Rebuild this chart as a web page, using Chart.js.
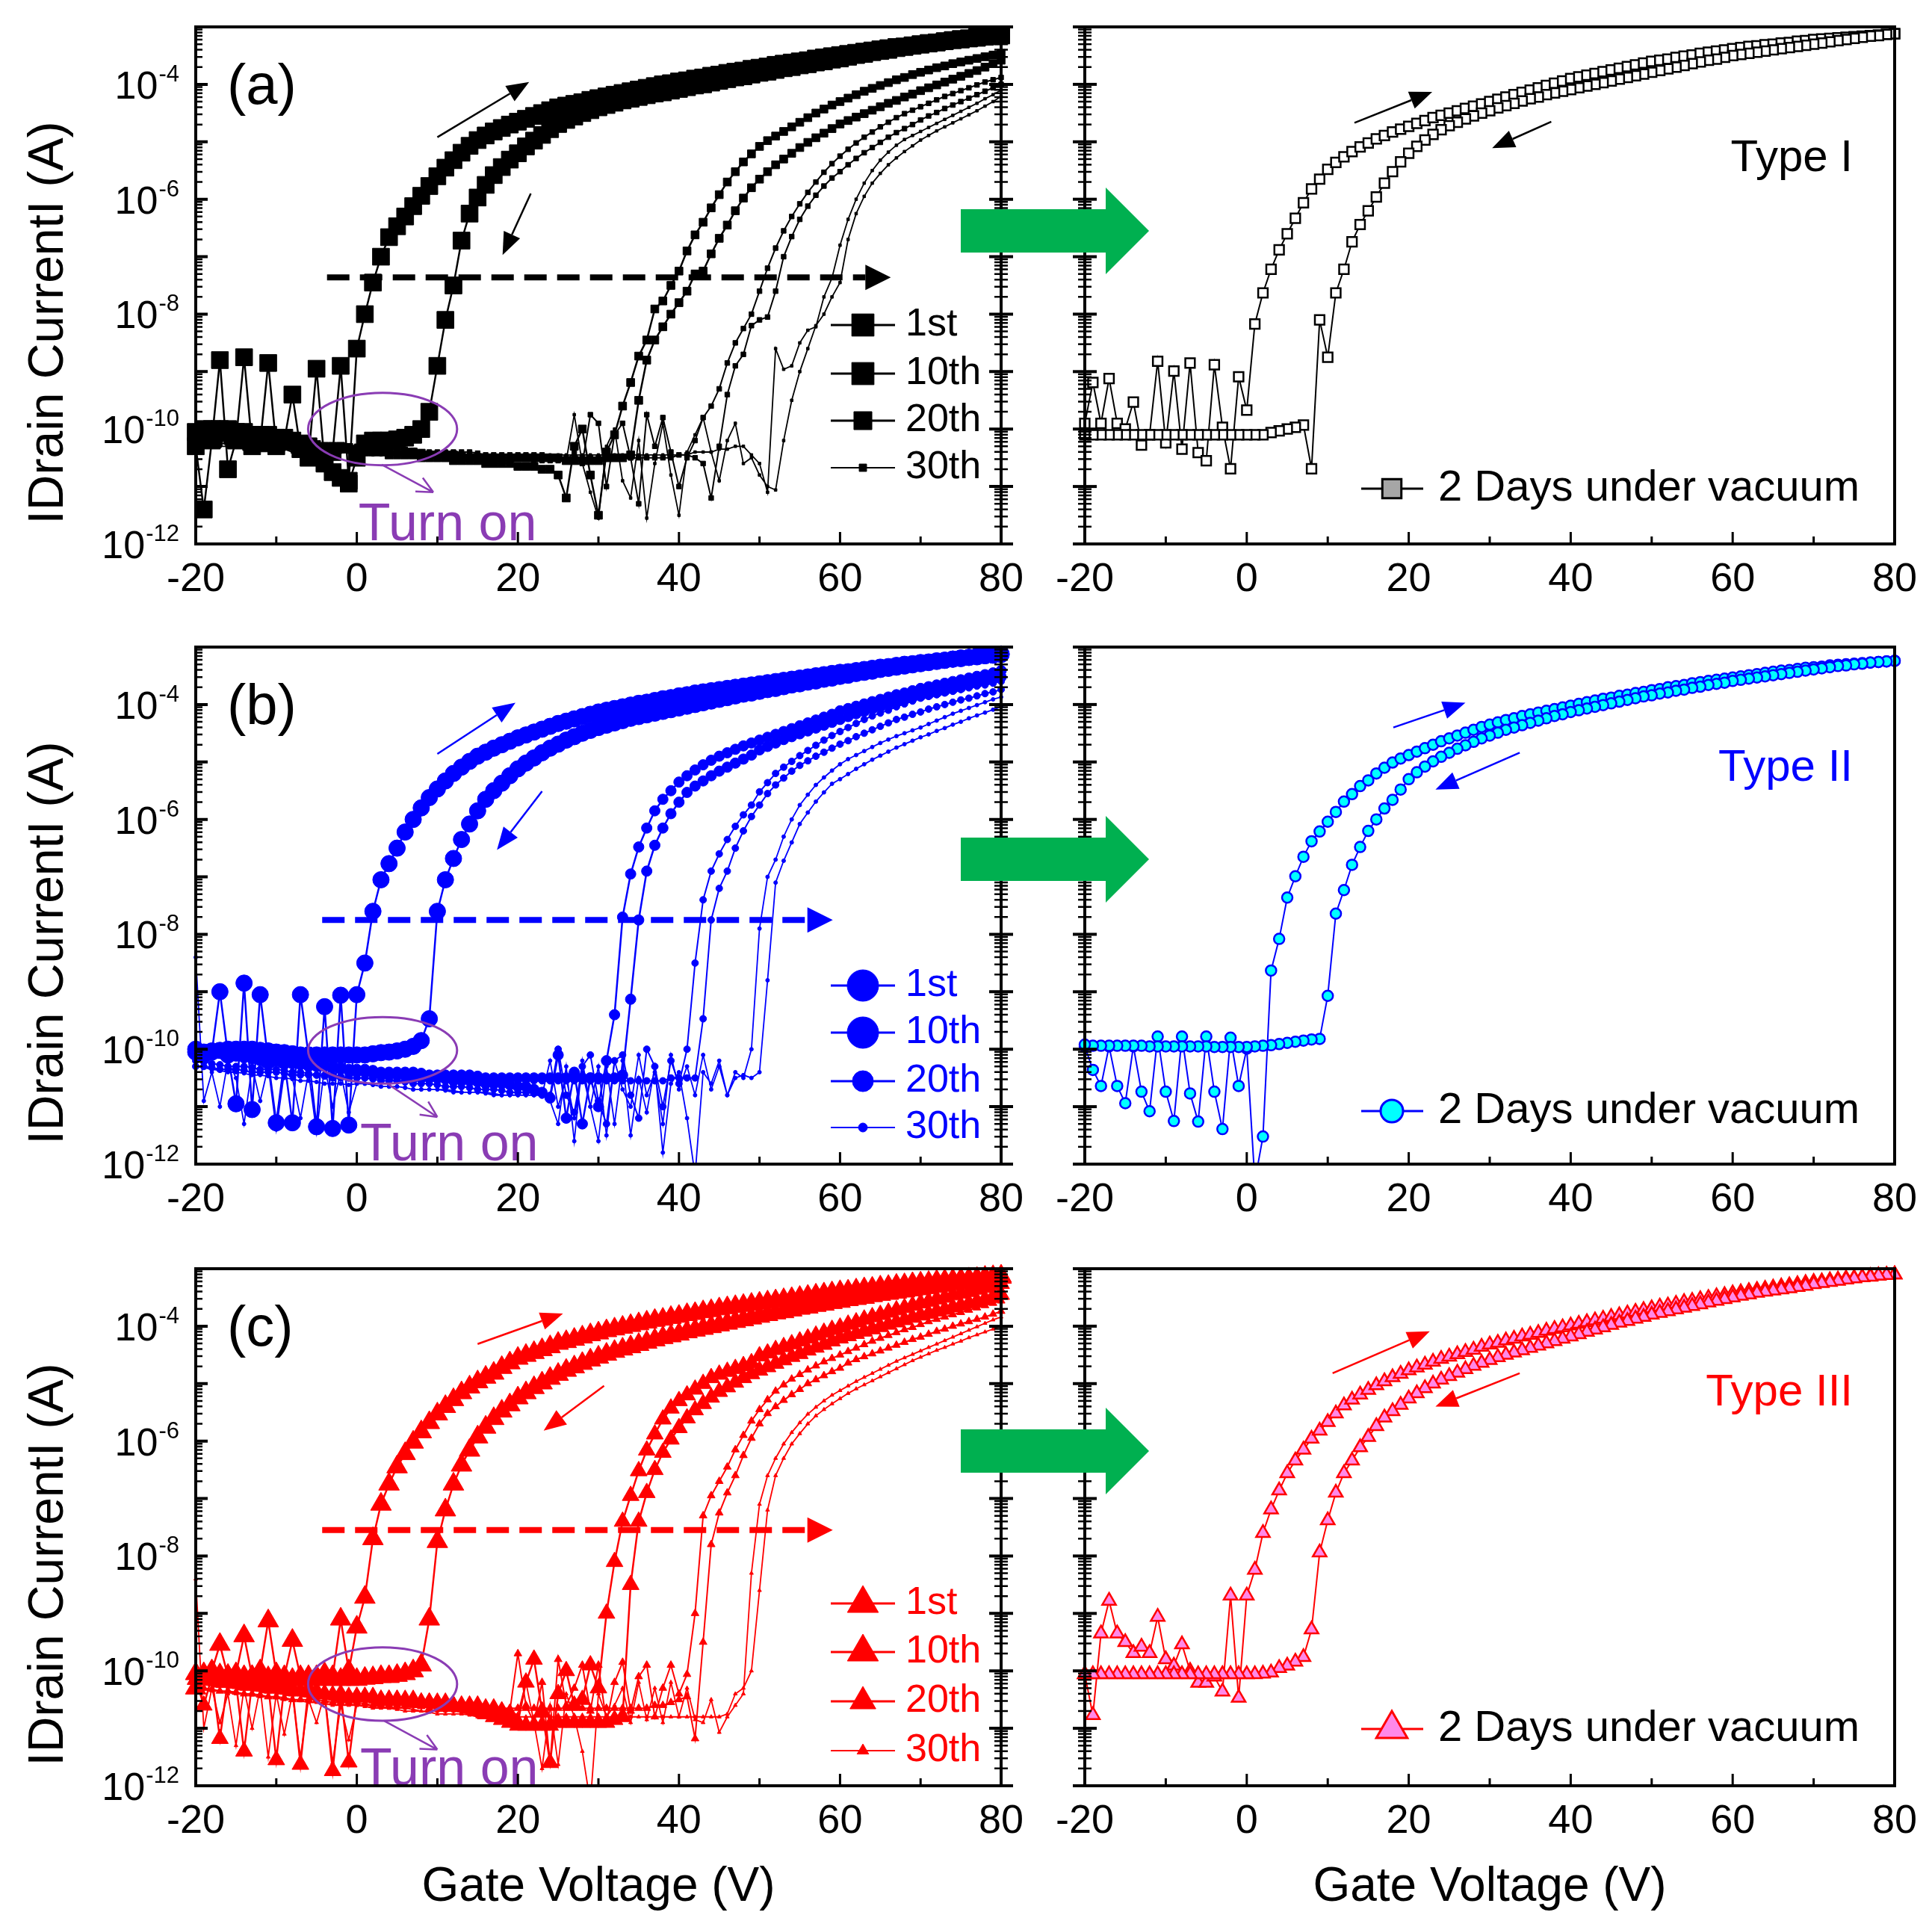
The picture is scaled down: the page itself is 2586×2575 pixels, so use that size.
<!DOCTYPE html>
<html>
<head>
<meta charset="utf-8">
<script src="https://cdn.jsdelivr.net/npm/chart.js"></script>
<style>
  html, body { margin: 0; padding: 0; background: #fff; }
  #page { position: relative; width: 2586px; height: 2575px; overflow: hidden; background: #fff; }
  #page canvas { position: absolute; }
</style>
</head>
<body>
<div id="page"></div>
<script>
// gate voltage grid (V), 1 V steps
const gateV = [-20,-19,-18,-17,-16,-15,-14,-13,-12,-11,
  -10,-9,-8,-7,-6,-5,-4,-3,-2,-1,
  0,1,2,3,4,5,6,7,8,9,
  10,11,12,13,14,15,16,17,18,19,
  20,21,22,23,24,25,26,27,28,29,
  30,31,32,33,34,35,36,37,38,39,
  40,41,42,43,44,45,46,47,48,49,
  50,51,52,53,54,55,56,57,58,59,
  60,61,62,63,64,65,66,67,68,69,
  70,71,72,73,74,75,76,77,78,79,80];

// drain current as log10(A); Fwd = sweep -20 -> 80, Rev = sweep 80 -> -20 (stored by ascending V)
// (a) cycles 1st / 10th / 20th / 30th
const a1Fwd = [-10.3,-11.4,-10.2,-8.8,-10.7,-10.2,-8.75,-10.3,-10.25,-8.85,
  -10.3,-10.2,-9.4,-10.35,-10.5,-8.95,-10.6,-10.4,-8.9,-10.9,
  -8.6,-8.0,-7.45,-7.0,-6.66,-6.47,-6.3,-6.12,-5.94,-5.77,
  -5.6,-5.45,-5.32,-5.19,-5.07,-4.97,-4.89,-4.82,-4.76,-4.7,
  -4.65,-4.6,-4.55,-4.5,-4.45,-4.4,-4.37,-4.34,-4.31,-4.27,
  -4.24,-4.21,-4.18,-4.15,-4.12,-4.09,-4.06,-4.03,-4.0,-3.98,
  -3.95,-3.93,-3.9,-3.88,-3.85,-3.83,-3.8,-3.78,-3.76,-3.73,
  -3.71,-3.69,-3.66,-3.64,-3.62,-3.6,-3.58,-3.55,-3.53,-3.51,
  -3.49,-3.47,-3.45,-3.43,-3.41,-3.39,-3.37,-3.35,-3.34,-3.32,
  -3.3,-3.28,-3.27,-3.25,-3.23,-3.22,-3.2,-3.19,-3.17,-3.16,-3.14];
const a1Rev = [-10.05,-10.0,-10.0,-10.0,-10.0,-10.05,-10.05,-10.1,-10.1,-10.1,
  -10.15,-10.15,-10.2,-10.25,-10.3,-10.45,-10.6,-10.75,-10.85,-10.95,
  -10.5,-10.25,-10.2,-10.2,-10.2,-10.18,-10.15,-10.1,-10.0,-9.7,
  -8.9,-8.1,-7.5,-6.72,-6.25,-5.97,-5.75,-5.58,-5.44,-5.31,
  -5.2,-5.08,-4.98,-4.88,-4.78,-4.69,-4.62,-4.56,-4.5,-4.45,
  -4.4,-4.36,-4.32,-4.28,-4.25,-4.22,-4.19,-4.16,-4.14,-4.11,
  -4.08,-4.05,-4.02,-4.0,-3.97,-3.94,-3.91,-3.88,-3.86,-3.83,
  -3.8,-3.78,-3.75,-3.72,-3.7,-3.67,-3.65,-3.62,-3.6,-3.57,
  -3.55,-3.52,-3.49,-3.47,-3.44,-3.42,-3.4,-3.37,-3.35,-3.33,
  -3.31,-3.29,-3.27,-3.25,-3.23,-3.21,-3.2,-3.18,-3.17,-3.16,-3.15];
const a2Fwd = [-10.15,-10.15,-10.15,-10.15,-10.2,-10.2,-10.2,-10.2,-10.25,-10.25,
  -10.25,-10.25,-10.3,-10.3,-10.3,-10.3,-10.35,-10.35,-10.35,-10.35,
  -10.4,-10.4,-10.4,-10.4,-10.45,-10.45,-10.45,-10.45,-10.5,-10.5,
  -10.5,-10.5,-10.55,-10.55,-10.55,-10.55,-10.6,-10.6,-10.6,-10.6,
  -10.65,-10.65,-10.65,-10.7,-10.7,-10.8,-11.2,-10.3,-10.0,-10.8,
  -11.5,-10.4,-10.1,-9.6,-9.19,-8.73,-8.45,-7.91,-7.77,-7.5,
  -7.25,-6.9,-6.62,-6.4,-6.15,-5.92,-5.7,-5.52,-5.35,-5.21,
  -5.08,-4.98,-4.9,-4.82,-4.74,-4.66,-4.58,-4.5,-4.43,-4.36,
  -4.3,-4.24,-4.18,-4.12,-4.07,-4.02,-3.97,-3.92,-3.88,-3.83,
  -3.79,-3.75,-3.71,-3.68,-3.64,-3.61,-3.58,-3.55,-3.52,-3.49,-3.46];
const a2Rev = [-10.0,-10.02,-10.05,-10.07,-10.1,-10.1,-10.12,-10.15,-10.15,-10.17,
  -10.2,-10.2,-10.22,-10.25,-10.25,-10.27,-10.3,-10.3,-10.3,-10.32,
  -10.35,-10.35,-10.35,-10.37,-10.4,-10.4,-10.4,-10.4,-10.42,-10.45,
  -10.45,-10.45,-10.45,-10.47,-10.5,-10.5,-10.5,-10.5,-10.5,-10.5,
  -10.5,-10.5,-10.5,-10.5,-10.5,-10.5,-10.55,-10.55,-10.55,-10.55,
  -10.55,-10.5,-10.5,-10.5,-10.45,-9.5,-8.8,-8.45,-8.22,-8.0,
  -7.8,-7.6,-7.3,-7.25,-6.95,-6.68,-6.45,-6.2,-5.98,-5.8,
  -5.65,-5.52,-5.4,-5.3,-5.2,-5.1,-5.01,-4.93,-4.85,-4.77,
  -4.69,-4.63,-4.57,-4.51,-4.45,-4.39,-4.33,-4.28,-4.22,-4.17,
  -4.11,-4.06,-4.01,-3.96,-3.91,-3.86,-3.81,-3.76,-3.7,-3.64,-3.58];
const a3Fwd = [-10.2,-10.2,-10.2,-10.25,-10.25,-10.25,-10.25,-10.3,-10.3,-10.3,
  -10.3,-10.3,-10.3,-10.35,-10.35,-10.35,-10.35,-10.35,-10.35,-10.35,
  -10.4,-10.4,-10.4,-10.4,-10.4,-10.4,-10.4,-10.4,-10.45,-10.45,
  -10.45,-10.45,-10.45,-10.45,-10.45,-10.5,-10.5,-10.5,-10.5,-10.5,
  -10.5,-10.5,-10.55,-10.55,-10.55,-10.55,-10.55,-10.4,-10.6,-9.75,
  -9.9,-11.0,-10.1,-9.9,-10.5,-11.3,-9.75,-10.3,-9.8,-10.4,
  -11.0,-10.5,-10.2,-9.8,-9.6,-9.3,-8.85,-8.5,-8.25,-8.0,
  -7.6,-7.2,-6.85,-6.55,-6.3,-6.08,-5.88,-5.7,-5.53,-5.38,
  -5.25,-5.13,-5.02,-4.92,-4.83,-4.74,-4.66,-4.58,-4.51,-4.45,
  -4.39,-4.33,-4.27,-4.21,-4.16,-4.11,-4.06,-4.01,-3.96,-3.92,-3.88];
const a3Rev = [-10.1,-10.1,-10.1,-10.12,-10.15,-10.15,-10.15,-10.17,-10.2,-10.2,
  -10.2,-10.22,-10.25,-10.25,-10.25,-10.27,-10.3,-10.3,-10.3,-10.3,
  -10.3,-10.32,-10.35,-10.35,-10.35,-10.35,-10.35,-10.37,-10.4,-10.4,
  -10.4,-10.4,-10.4,-10.4,-10.4,-10.42,-10.45,-10.45,-10.45,-10.45,
  -10.45,-10.45,-10.45,-10.45,-10.5,-10.5,-10.5,-10.5,-10.5,-10.5,
  -10.5,-10.5,-10.5,-10.5,-10.5,-10.5,-10.5,-10.5,-10.5,-10.5,
  -10.45,-10.45,-10.5,-10.6,-11.2,-10.3,-9.4,-8.9,-8.7,-8.2,
  -8.1,-8.05,-7.6,-7.0,-6.65,-6.35,-6.12,-5.93,-5.77,-5.63,
  -5.52,-5.4,-5.29,-5.19,-5.1,-5.01,-4.92,-4.84,-4.77,-4.7,
  -4.62,-4.55,-4.49,-4.42,-4.36,-4.3,-4.24,-4.18,-4.12,-4.06,-4.0];
const a4Fwd = [-10.25,-10.25,-10.25,-10.3,-10.3,-10.3,-10.3,-10.3,-10.3,-10.35,
  -10.35,-10.35,-10.35,-10.35,-10.35,-10.35,-10.35,-10.4,-10.4,-10.4,
  -10.4,-10.4,-10.4,-10.4,-10.4,-10.4,-10.4,-10.4,-10.4,-10.4,
  -10.4,-10.45,-10.45,-10.45,-10.45,-10.45,-10.45,-10.45,-10.45,-10.45,
  -10.45,-10.45,-10.45,-10.45,-10.45,-10.45,-10.45,-10.45,-10.45,-10.45,
  -10.45,-10.45,-10.45,-10.45,-10.45,-10.45,-10.45,-10.45,-10.45,-10.45,
  -10.45,-10.45,-10.4,-10.4,-10.4,-10.35,-10.35,-10.3,-10.3,-10.45,
  -10.6,-11.1,-8.6,-8.96,-8.9,-8.5,-8.28,-8.22,-7.7,-7.37,
  -6.8,-6.35,-6.0,-5.72,-5.5,-5.32,-5.18,-5.06,-4.96,-4.89,
  -4.82,-4.75,-4.68,-4.61,-4.54,-4.47,-4.4,-4.33,-4.25,-4.18,-4.1];
const a4Rev = [-10.3,-10.3,-10.3,-10.3,-10.3,-10.3,-10.35,-10.35,-10.35,-10.35,
  -10.35,-10.35,-10.4,-10.4,-10.4,-10.4,-10.4,-10.4,-10.4,-10.4,
  -10.4,-10.4,-10.45,-10.45,-10.45,-10.45,-10.45,-10.45,-10.45,-10.45,
  -10.5,-10.5,-10.5,-10.5,-10.5,-10.5,-10.5,-10.5,-10.5,-10.5,
  -10.5,-10.5,-10.5,-10.5,-10.55,-10.55,-10.55,-9.75,-10.6,-11.1,
  -11.55,-10.3,-10.0,-10.9,-11.2,-10.2,-11.55,-10.6,-9.9,-10.8,
  -11.5,-10.4,-10.1,-9.8,-10.4,-10.9,-10.2,-9.9,-10.6,-10.5,
  -10.8,-11.0,-11.06,-10.2,-9.5,-9.0,-8.6,-8.2,-8.0,-7.7,
  -7.45,-6.7,-6.25,-5.95,-5.72,-5.55,-5.4,-5.28,-5.17,-5.07,
  -4.97,-4.89,-4.81,-4.74,-4.67,-4.6,-4.53,-4.46,-4.38,-4.3,-4.21];

// (b)
const b1Fwd = [-10.0,-10.1,-10.05,-9.0,-10.1,-10.95,-8.85,-11.05,-9.05,-10.2,
  -11.28,-10.2,-11.28,-9.05,-10.1,-11.35,-9.26,-11.38,-9.06,-11.32,
  -9.05,-8.5,-7.6,-7.05,-6.77,-6.5,-6.22,-6.0,-5.8,-5.62,
  -5.47,-5.33,-5.2,-5.09,-4.99,-4.9,-4.83,-4.76,-4.7,-4.64,
  -4.58,-4.53,-4.48,-4.43,-4.38,-4.33,-4.29,-4.25,-4.21,-4.17,
  -4.13,-4.1,-4.07,-4.04,-4.01,-3.98,-3.96,-3.93,-3.9,-3.88,
  -3.85,-3.83,-3.8,-3.78,-3.76,-3.74,-3.72,-3.7,-3.68,-3.66,
  -3.64,-3.62,-3.6,-3.58,-3.56,-3.54,-3.52,-3.5,-3.48,-3.46,
  -3.44,-3.43,-3.41,-3.39,-3.37,-3.35,-3.34,-3.32,-3.3,-3.29,
  -3.27,-3.26,-3.24,-3.23,-3.21,-3.2,-3.18,-3.17,-3.15,-3.14,-3.12];
const b1Rev = [-10.05,-10.05,-10.03,-10.02,-10.0,-10.0,-10.0,-10.0,-10.02,-10.03,
  -10.05,-10.06,-10.08,-10.1,-10.1,-10.1,-10.1,-10.1,-10.1,-10.1,
  -10.1,-10.1,-10.08,-10.06,-10.05,-10.03,-10.0,-9.95,-9.85,-9.47,
  -7.6,-7.05,-6.68,-6.35,-6.08,-5.85,-5.65,-5.5,-5.37,-5.24,
  -5.12,-5.02,-4.93,-4.84,-4.76,-4.69,-4.62,-4.56,-4.5,-4.45,
  -4.4,-4.36,-4.32,-4.28,-4.24,-4.21,-4.18,-4.15,-4.12,-4.09,
  -4.06,-4.03,-4.0,-3.97,-3.94,-3.91,-3.88,-3.85,-3.82,-3.8,
  -3.77,-3.74,-3.72,-3.69,-3.66,-3.64,-3.61,-3.59,-3.56,-3.54,
  -3.51,-3.49,-3.46,-3.44,-3.42,-3.39,-3.37,-3.35,-3.33,-3.31,
  -3.29,-3.27,-3.25,-3.23,-3.21,-3.19,-3.18,-3.16,-3.15,-3.14,-3.13];
const b2Fwd = [-10.0,-10.02,-10.05,-10.07,-10.1,-10.12,-10.15,-10.17,-10.2,-10.2,
  -10.2,-10.22,-10.25,-10.27,-10.3,-10.3,-10.3,-10.32,-10.35,-10.37,
  -10.4,-10.4,-10.42,-10.45,-10.45,-10.45,-10.47,-10.5,-10.5,-10.5,
  -10.5,-10.52,-10.55,-10.55,-10.55,-10.57,-10.6,-10.6,-10.6,-10.62,
  -10.65,-10.65,-10.7,-10.75,-10.85,-10.1,-11.2,-10.4,-11.3,-10.5,
  -11.0,-10.2,-9.4,-7.7,-6.95,-6.48,-6.15,-5.85,-5.65,-5.5,
  -5.35,-5.24,-5.14,-5.05,-4.97,-4.9,-4.84,-4.78,-4.72,-4.67,
  -4.62,-4.57,-4.52,-4.47,-4.42,-4.37,-4.32,-4.27,-4.22,-4.17,
  -4.11,-4.07,-4.03,-3.99,-3.95,-3.91,-3.87,-3.83,-3.8,-3.76,
  -3.72,-3.69,-3.66,-3.63,-3.6,-3.57,-3.54,-3.51,-3.48,-3.45,-3.41];
const b2Rev = [-10.0,-10.02,-10.05,-10.07,-10.1,-10.1,-10.12,-10.15,-10.17,-10.2,
  -10.2,-10.22,-10.25,-10.25,-10.27,-10.3,-10.3,-10.3,-10.32,-10.35,
  -10.35,-10.35,-10.37,-10.4,-10.4,-10.4,-10.4,-10.4,-10.42,-10.45,
  -10.45,-10.45,-10.45,-10.45,-10.45,-10.47,-10.5,-10.5,-10.5,-10.5,
  -10.5,-10.5,-10.5,-10.5,-10.5,-10.5,-10.5,-10.5,-10.5,-10.5,
  -10.5,-10.5,-10.5,-10.45,-9.13,-7.75,-6.9,-6.45,-6.15,-5.9,
  -5.7,-5.53,-5.42,-5.33,-5.24,-5.16,-5.09,-5.02,-4.95,-4.88,
  -4.79,-4.73,-4.67,-4.61,-4.56,-4.51,-4.46,-4.41,-4.36,-4.31,
  -4.26,-4.21,-4.16,-4.12,-4.08,-4.04,-4.0,-3.96,-3.92,-3.88,
  -3.85,-3.82,-3.79,-3.76,-3.73,-3.7,-3.66,-3.63,-3.59,-3.55,-3.52];
const b3Fwd = [-10.2,-10.22,-10.25,-10.27,-10.3,-10.3,-10.3,-10.32,-10.35,-10.35,
  -10.35,-10.37,-10.4,-10.4,-10.42,-10.45,-10.45,-10.45,-10.47,-10.5,
  -10.5,-10.5,-10.52,-10.55,-10.55,-10.55,-10.57,-10.6,-10.6,-10.6,
  -10.62,-10.65,-10.65,-10.65,-10.67,-10.7,-10.7,-10.7,-10.72,-10.75,
  -10.75,-10.75,-10.77,-10.8,-10.8,-10.0,-10.8,-11.1,-10.3,-10.1,
  -10.9,-11.3,-10.2,-10.1,-10.8,-11.2,-10.0,-10.3,-11.0,-10.2,
  -10.6,-10.0,-8.5,-7.4,-6.9,-6.6,-6.35,-6.12,-5.92,-5.75,
  -5.52,-5.36,-5.2,-5.09,-4.99,-4.89,-4.8,-4.71,-4.62,-4.54,
  -4.47,-4.4,-4.33,-4.26,-4.2,-4.15,-4.1,-4.04,-3.99,-3.94,
  -3.89,-3.86,-3.83,-3.8,-3.77,-3.74,-3.71,-3.68,-3.66,-3.63,-3.6];
const b3Rev = [-10.3,-10.3,-10.32,-10.35,-10.35,-10.35,-10.37,-10.4,-10.4,-10.4,
  -10.4,-10.42,-10.45,-10.45,-10.45,-10.45,-10.47,-10.5,-10.5,-10.5,
  -10.5,-10.5,-10.5,-10.5,-10.52,-10.55,-10.55,-10.55,-10.55,-10.55,
  -10.55,-10.55,-10.55,-10.55,-10.55,-10.55,-10.55,-10.55,-10.55,-10.55,
  -10.55,-10.55,-10.55,-10.55,-10.55,-10.55,-10.55,-10.55,-10.55,-10.55,
  -10.55,-10.55,-10.55,-10.55,-10.55,-10.55,-10.55,-10.55,-10.55,-10.5,
  -10.5,-10.5,-10.5,-9.47,-7.75,-7.2,-6.9,-6.5,-6.2,-5.95,
  -5.75,-5.55,-5.4,-5.28,-5.16,-5.06,-4.98,-4.9,-4.83,-4.76,
  -4.69,-4.63,-4.56,-4.5,-4.44,-4.38,-4.32,-4.26,-4.22,-4.17,
  -4.13,-4.08,-4.04,-4.0,-3.96,-3.92,-3.89,-3.85,-3.81,-3.78,-3.74];
const b4Fwd = [-8.4,-10.9,-10.4,-11.0,-10.2,-10.5,-11.3,-10.3,-10.9,-10.3,
  -11.4,-10.4,-10.5,-11.2,-10.4,-11.45,-10.3,-11.0,-10.4,-11.1,
  -10.6,-10.6,-10.62,-10.65,-10.65,-10.65,-10.67,-10.7,-10.7,-10.7,
  -10.7,-10.72,-10.75,-10.75,-10.75,-10.75,-10.77,-10.8,-10.8,-10.8,
  -10.8,-10.8,-10.8,-10.8,-10.2,-11.0,-10.5,-11.2,-10.4,-11.0,
  -10.3,-11.5,-10.2,-10.7,-11.0,-10.1,-10.8,-10.4,-11.3,-10.1,
  -10.7,-10.3,-10.8,-10.1,-10.7,-10.3,-10.8,-10.4,-10.5,-10.0,
  -7.9,-7.0,-6.7,-6.3,-6.0,-5.75,-5.57,-5.4,-5.27,-5.15,
  -5.04,-4.95,-4.88,-4.81,-4.74,-4.67,-4.61,-4.55,-4.5,-4.45,
  -4.4,-4.34,-4.28,-4.22,-4.16,-4.11,-4.06,-4.01,-3.96,-3.91,-3.87];
const b4Rev = [-10.3,-10.32,-10.35,-10.37,-10.4,-10.4,-10.42,-10.45,-10.45,-10.47,
  -10.5,-10.5,-10.52,-10.55,-10.55,-10.57,-10.6,-10.6,-10.6,-10.62,
  -10.6,-10.6,-10.62,-10.65,-10.65,-10.65,-10.67,-10.7,-10.7,-10.7,
  -10.7,-10.7,-10.72,-10.75,-10.75,-10.75,-10.75,-10.77,-10.8,-10.8,
  -10.8,-10.8,-10.8,-10.8,-10.9,-11.3,-10.3,-11.6,-10.2,-11.0,
  -11.6,-10.3,-11.3,-10.2,-11.5,-10.5,-11.1,-10.3,-11.8,-10.6,
  -10.4,-11.2,-12.2,-10.4,-10.6,-10.2,-10.8,-10.5,-10.45,-10.5,
  -10.4,-8.8,-7.1,-6.72,-6.4,-6.08,-5.88,-5.69,-5.53,-5.38,
  -5.3,-5.21,-5.12,-5.04,-4.96,-4.89,-4.82,-4.75,-4.69,-4.63,
  -4.57,-4.52,-4.46,-4.41,-4.35,-4.3,-4.24,-4.19,-4.14,-4.09,-4.04];

// (c)
const c1Fwd = [-10.3,-10.1,-10.0,-9.54,-10.1,-10.05,-9.39,-10.1,-10.0,-9.13,
  -10.05,-10.1,-9.47,-10.1,-10.1,-10.1,-10.05,-10.1,-9.1,-10.0,
  -9.24,-8.72,-7.7,-7.1,-6.75,-6.45,-6.22,-6.02,-5.84,-5.68,
  -5.53,-5.4,-5.28,-5.16,-5.06,-4.97,-4.89,-4.82,-4.72,-4.64,
  -4.56,-4.51,-4.46,-4.41,-4.36,-4.3,-4.27,-4.23,-4.19,-4.15,
  -4.12,-4.08,-4.05,-4.02,-3.99,-3.96,-3.93,-3.9,-3.88,-3.85,
  -3.83,-3.8,-3.78,-3.75,-3.73,-3.7,-3.68,-3.66,-3.64,-3.62,
  -3.6,-3.58,-3.56,-3.54,-3.52,-3.5,-3.48,-3.46,-3.44,-3.42,
  -3.4,-3.39,-3.37,-3.35,-3.34,-3.32,-3.31,-3.29,-3.28,-3.26,
  -3.25,-3.24,-3.22,-3.21,-3.2,-3.19,-3.18,-3.17,-3.15,-3.14,-3.13];
const c1Rev = [-10.05,-10.05,-10.05,-10.07,-10.08,-10.1,-10.1,-10.1,-10.1,-10.12,
  -10.12,-10.13,-10.15,-10.15,-10.15,-10.15,-10.15,-10.15,-10.15,-10.15,
  -10.15,-10.13,-10.12,-10.1,-10.1,-10.08,-10.05,-10.0,-9.9,-9.1,
  -7.75,-7.2,-6.75,-6.42,-6.16,-5.93,-5.76,-5.61,-5.48,-5.37,
  -5.25,-5.16,-5.07,-4.99,-4.91,-4.84,-4.77,-4.71,-4.65,-4.59,
  -4.54,-4.49,-4.44,-4.4,-4.36,-4.32,-4.28,-4.24,-4.2,-4.17,
  -4.14,-4.1,-4.07,-4.04,-4.01,-3.98,-3.95,-3.92,-3.89,-3.86,
  -3.83,-3.8,-3.77,-3.75,-3.72,-3.69,-3.67,-3.64,-3.62,-3.59,
  -3.57,-3.54,-3.52,-3.5,-3.47,-3.45,-3.43,-3.41,-3.39,-3.37,
  -3.35,-3.33,-3.31,-3.29,-3.27,-3.25,-3.23,-3.21,-3.19,-3.17,-3.15];
const c2Fwd = [-10.15,-10.6,-10.1,-11.18,-10.15,-10.2,-11.4,-10.2,-10.2,-10.25,
  -11.55,-10.25,-10.3,-11.63,-10.3,-10.35,-10.4,-11.74,-10.4,-11.59,
  -10.45,-10.45,-10.45,-10.5,-10.5,-10.5,-10.5,-10.5,-10.55,-10.55,
  -10.55,-10.55,-10.6,-10.6,-10.6,-10.6,-10.65,-10.65,-10.7,-10.75,
  -10.9,-10.2,-9.8,-10.7,-11.6,-10.4,-10.0,-10.6,-10.5,-9.9,
  -10.3,-9.0,-8.1,-7.4,-6.95,-6.52,-6.16,-5.88,-5.62,-5.43,
  -5.3,-5.2,-5.1,-5.0,-4.9,-4.84,-4.79,-4.74,-4.69,-4.64,
  -4.52,-4.47,-4.41,-4.36,-4.31,-4.26,-4.21,-4.16,-4.11,-4.06,
  -4.02,-3.97,-3.93,-3.88,-3.84,-3.8,-3.76,-3.72,-3.68,-3.64,
  -3.6,-3.57,-3.53,-3.5,-3.46,-3.43,-3.4,-3.36,-3.33,-3.29,-3.26];
const c2Rev = [-10.15,-10.15,-10.17,-10.2,-10.2,-10.22,-10.25,-10.25,-10.27,-10.3,
  -10.3,-10.32,-10.35,-10.35,-10.37,-10.4,-10.4,-10.42,-10.45,-10.45,
  -10.45,-10.45,-10.47,-10.5,-10.5,-10.5,-10.52,-10.55,-10.55,-10.55,
  -10.57,-10.6,-10.6,-10.62,-10.65,-10.7,-10.75,-10.8,-10.85,-10.9,
  -10.95,-10.95,-10.95,-10.95,-10.95,-10.9,-10.9,-10.9,-10.9,-10.9,
  -10.9,-10.9,-10.85,-10.8,-8.5,-7.4,-6.9,-6.5,-6.2,-5.97,
  -5.77,-5.6,-5.46,-5.35,-5.24,-5.14,-5.06,-4.98,-4.9,-4.83,
  -4.77,-4.71,-4.65,-4.59,-4.53,-4.48,-4.42,-4.37,-4.32,-4.26,
  -4.21,-4.17,-4.13,-4.09,-4.05,-4.01,-3.97,-3.93,-3.89,-3.85,
  -3.81,-3.78,-3.74,-3.71,-3.67,-3.64,-3.6,-3.57,-3.53,-3.49,-3.45];
const c3Fwd = [-10.2,-10.2,-10.22,-10.25,-10.25,-10.27,-10.3,-10.3,-10.32,-10.35,
  -10.35,-10.37,-10.4,-10.4,-10.42,-10.45,-10.45,-10.47,-10.5,-10.5,
  -10.5,-10.5,-10.52,-10.55,-10.55,-10.55,-10.55,-10.57,-10.6,-10.6,
  -10.6,-10.6,-10.6,-10.62,-10.65,-10.65,-10.65,-10.65,-10.67,-10.7,
  -9.7,-10.6,-10.9,-10.2,-11.6,-9.8,-10.6,-10.3,-9.9,-10.7,
  -9.9,-10.9,-10.2,-9.85,-10.7,-10.1,-9.9,-10.8,-10.3,-9.9,
  -10.4,-10.06,-9.0,-7.3,-6.95,-6.7,-6.45,-6.15,-5.9,-5.65,
  -5.45,-5.28,-5.13,-5.02,-4.92,-4.84,-4.76,-4.69,-4.62,-4.56,
  -4.5,-4.44,-4.38,-4.32,-4.26,-4.21,-4.16,-4.11,-4.06,-4.02,
  -3.97,-3.92,-3.88,-3.84,-3.8,-3.76,-3.72,-3.68,-3.64,-3.6,-3.56];
const c3Rev = [-10.3,-10.3,-10.32,-10.35,-10.35,-10.37,-10.4,-10.4,-10.42,-10.45,
  -10.45,-10.47,-10.5,-10.5,-10.5,-10.5,-10.52,-10.55,-10.55,-10.55,
  -10.55,-10.57,-10.6,-10.6,-10.6,-10.6,-10.6,-10.6,-10.62,-10.65,
  -10.65,-10.65,-10.65,-10.65,-10.65,-10.65,-10.65,-10.65,-10.65,-10.65,
  -10.65,-10.65,-10.65,-10.65,-10.65,-10.65,-10.65,-10.65,-10.65,-10.65,
  -10.65,-10.65,-10.65,-10.65,-10.65,-10.65,-10.65,-10.6,-10.6,-10.55,
  -10.5,-10.45,-11.18,-9.5,-7.8,-7.25,-6.9,-6.6,-6.25,-5.95,
  -5.7,-5.52,-5.4,-5.29,-5.19,-5.1,-5.0,-4.93,-4.86,-4.79,
  -4.73,-4.64,-4.58,-4.53,-4.48,-4.43,-4.38,-4.33,-4.28,-4.23,
  -4.19,-4.14,-4.09,-4.05,-4.0,-3.96,-3.92,-3.88,-3.84,-3.79,-3.74];
const c4Fwd = [-8.4,-11.0,-10.3,-10.9,-10.4,-11.3,-10.3,-11.0,-10.3,-11.5,
  -10.4,-11.1,-10.4,-11.5,-10.5,-10.9,-10.4,-11.6,-10.6,-11.2,
  -10.6,-10.6,-10.6,-10.62,-10.65,-10.65,-10.65,-10.67,-10.7,-10.7,
  -10.7,-10.7,-10.7,-10.72,-10.75,-10.75,-10.75,-10.75,-10.75,-10.75,
  -10.75,-10.2,-10.9,-11.7,-10.6,-11.63,-10.4,-10.8,-11.4,-12.3,
  -10.4,-10.8,-10.6,-10.3,-10.9,-10.2,-10.85,-10.3,-10.9,-10.2,
  -10.8,-10.3,-10.85,-10.9,-10.5,-11.07,-10.8,-10.6,-10.4,-8.3,
  -7.1,-6.6,-6.3,-6.05,-5.85,-5.68,-5.53,-5.41,-5.3,-5.2,
  -5.12,-5.04,-4.96,-4.89,-4.82,-4.75,-4.68,-4.61,-4.55,-4.49,
  -4.43,-4.37,-4.31,-4.25,-4.19,-4.13,-4.07,-4.01,-3.95,-3.89,-3.84];
const c4Rev = [-10.3,-10.32,-10.35,-10.35,-10.37,-10.4,-10.4,-10.42,-10.45,-10.45,
  -10.47,-10.5,-10.5,-10.52,-10.55,-10.55,-10.57,-10.6,-10.6,-10.6,
  -10.6,-10.62,-10.65,-10.65,-10.65,-10.67,-10.7,-10.7,-10.7,-10.72,
  -10.75,-10.75,-10.75,-10.75,-10.77,-10.8,-10.8,-10.8,-10.8,-10.8,
  -10.8,-10.8,-10.8,-10.8,-10.8,-10.8,-10.8,-10.8,-10.8,-10.8,
  -10.8,-10.8,-10.8,-10.8,-10.8,-10.8,-10.8,-10.8,-10.8,-10.8,
  -10.8,-10.8,-10.8,-10.8,-10.8,-10.8,-10.75,-10.4,-10.3,-10.0,
  -8.6,-7.2,-6.6,-6.3,-6.05,-5.87,-5.7,-5.56,-5.45,-5.35,
  -5.26,-5.17,-5.09,-5.02,-4.95,-4.88,-4.81,-4.74,-4.67,-4.6,
  -4.54,-4.48,-4.42,-4.37,-4.31,-4.26,-4.2,-4.15,-4.1,-4.05,-4.0];

// 2 days under vacuum (right panels)
const aVacFwd = [-9.9,-9.19,-9.9,-9.12,-9.9,-10.0,-9.53,-10.28,-10.1,-8.82,
  -10.24,-8.99,-10.35,-8.85,-10.41,-10.55,-8.88,-9.97,-10.69,-9.09,
  -9.67,-8.17,-7.63,-7.22,-6.88,-6.6,-6.33,-6.06,-5.82,-5.65,
  -5.48,-5.36,-5.26,-5.17,-5.09,-5.02,-4.95,-4.89,-4.83,-4.78,
  -4.73,-4.68,-4.63,-4.58,-4.54,-4.5,-4.46,-4.42,-4.38,-4.34,
  -4.3,-4.26,-4.22,-4.18,-4.14,-4.1,-4.06,-4.02,-3.98,-3.94,
  -3.9,-3.87,-3.84,-3.81,-3.78,-3.75,-3.72,-3.69,-3.66,-3.63,
  -3.6,-3.58,-3.56,-3.53,-3.51,-3.49,-3.46,-3.44,-3.42,-3.4,
  -3.38,-3.36,-3.34,-3.33,-3.31,-3.3,-3.28,-3.27,-3.25,-3.24,
  -3.22,-3.21,-3.2,-3.19,-3.18,-3.17,-3.16,-3.15,-3.14,-3.13,-3.12];
const aVacRev = [-10.1,-10.1,-10.1,-10.1,-10.1,-10.1,-10.1,-10.1,-10.1,-10.1,
  -10.1,-10.1,-10.1,-10.1,-10.1,-10.1,-10.1,-10.1,-10.1,-10.1,
  -10.1,-10.1,-10.1,-10.06,-10.03,-10.0,-9.97,-9.93,-10.69,-8.1,
  -8.75,-7.63,-7.22,-6.74,-6.44,-6.2,-5.96,-5.72,-5.52,-5.35,
  -5.2,-5.08,-4.97,-4.87,-4.79,-4.72,-4.66,-4.6,-4.55,-4.5,
  -4.46,-4.41,-4.37,-4.33,-4.29,-4.25,-4.22,-4.18,-4.15,-4.12,
  -4.09,-4.06,-4.03,-4.0,-3.97,-3.94,-3.91,-3.88,-3.85,-3.82,
  -3.79,-3.76,-3.73,-3.7,-3.67,-3.64,-3.61,-3.58,-3.56,-3.53,
  -3.5,-3.48,-3.46,-3.44,-3.42,-3.4,-3.38,-3.36,-3.34,-3.32,
  -3.3,-3.28,-3.26,-3.24,-3.22,-3.2,-3.18,-3.16,-3.15,-3.13,-3.12];
const bVacFwd = [-9.95,-10.36,-10.64,-9.95,-10.64,-10.94,-9.95,-10.74,-11.08,-9.78,
  -10.74,-11.25,-9.78,-10.77,-11.26,-9.78,-10.74,-11.39,-9.8,-10.64,
  -9.99,-12.3,-11.52,-8.63,-8.08,-7.36,-6.99,-6.65,-6.38,-6.21,
  -6.04,-5.87,-5.69,-5.56,-5.42,-5.32,-5.2,-5.1,-5.01,-4.94,
  -4.88,-4.82,-4.76,-4.7,-4.64,-4.59,-4.54,-4.49,-4.44,-4.39,
  -4.35,-4.31,-4.27,-4.24,-4.2,-4.17,-4.14,-4.11,-4.08,-4.05,
  -4.02,-3.99,-3.96,-3.93,-3.9,-3.88,-3.85,-3.83,-3.8,-3.78,
  -3.75,-3.73,-3.7,-3.68,-3.66,-3.63,-3.61,-3.59,-3.57,-3.55,
  -3.53,-3.51,-3.49,-3.47,-3.45,-3.43,-3.41,-3.4,-3.38,-3.36,
  -3.35,-3.34,-3.32,-3.31,-3.3,-3.29,-3.28,-3.27,-3.26,-3.25,-3.24];
const bVacRev = [-9.92,-9.94,-9.94,-9.94,-9.94,-9.94,-9.94,-9.94,-9.95,-9.95,
  -9.95,-9.95,-9.95,-9.95,-9.95,-9.95,-9.96,-9.96,-9.96,-9.96,
  -9.96,-9.95,-9.94,-9.93,-9.91,-9.89,-9.87,-9.85,-9.83,-9.82,
  -9.07,-7.64,-7.23,-6.79,-6.48,-6.2,-6.0,-5.81,-5.66,-5.48,
  -5.3,-5.18,-5.08,-4.99,-4.91,-4.84,-4.77,-4.71,-4.65,-4.59,
  -4.54,-4.49,-4.44,-4.4,-4.36,-4.32,-4.28,-4.24,-4.2,-4.17,
  -4.13,-4.1,-4.07,-4.04,-4.01,-3.98,-3.95,-3.92,-3.89,-3.86,
  -3.84,-3.81,-3.79,-3.76,-3.74,-3.71,-3.69,-3.66,-3.64,-3.62,
  -3.59,-3.57,-3.55,-3.53,-3.51,-3.49,-3.47,-3.45,-3.43,-3.41,
  -3.39,-3.37,-3.35,-3.33,-3.32,-3.3,-3.29,-3.27,-3.26,-3.25,-3.24];
const cVacFwd = [-10.06,-10.77,-9.35,-8.78,-9.35,-9.5,-9.69,-9.58,-9.69,-9.06,
  -9.8,-9.91,-9.54,-10.0,-10.21,-10.21,-10.1,-10.36,-8.69,-10.47,
  -8.69,-8.24,-7.6,-7.19,-6.86,-6.56,-6.34,-6.15,-5.96,-5.82,
  -5.67,-5.52,-5.38,-5.28,-5.19,-5.11,-5.03,-4.96,-4.89,-4.83,
  -4.77,-4.72,-4.67,-4.62,-4.57,-4.53,-4.49,-4.45,-4.41,-4.36,
  -4.32,-4.29,-4.25,-4.22,-4.18,-4.15,-4.12,-4.08,-4.05,-4.02,
  -3.99,-3.96,-3.93,-3.9,-3.87,-3.84,-3.81,-3.78,-3.75,-3.72,
  -3.69,-3.66,-3.64,-3.61,-3.58,-3.56,-3.53,-3.51,-3.48,-3.46,
  -3.43,-3.41,-3.39,-3.37,-3.35,-3.33,-3.31,-3.29,-3.27,-3.25,
  -3.23,-3.22,-3.2,-3.19,-3.17,-3.16,-3.15,-3.13,-3.12,-3.11,-3.1];
const cVacRev = [-10.06,-10.06,-10.06,-10.06,-10.06,-10.06,-10.06,-10.06,-10.06,-10.06,
  -10.06,-10.06,-10.06,-10.06,-10.06,-10.06,-10.06,-10.06,-10.06,-10.06,
  -10.06,-10.06,-10.05,-10.03,-9.95,-9.91,-9.84,-9.76,-9.28,-7.94,
  -7.38,-6.9,-6.56,-6.34,-6.11,-5.93,-5.74,-5.59,-5.48,-5.37,
  -5.26,-5.17,-5.08,-5.0,-4.93,-4.87,-4.81,-4.75,-4.69,-4.64,
  -4.59,-4.54,-4.5,-4.46,-4.42,-4.38,-4.34,-4.3,-4.26,-4.22,
  -4.18,-4.14,-4.1,-4.06,-4.02,-3.98,-3.94,-3.91,-3.87,-3.84,
  -3.8,-3.77,-3.74,-3.71,-3.68,-3.65,-3.62,-3.59,-3.56,-3.53,
  -3.5,-3.47,-3.45,-3.42,-3.4,-3.38,-3.36,-3.34,-3.32,-3.3,
  -3.27,-3.25,-3.23,-3.21,-3.19,-3.17,-3.15,-3.14,-3.12,-3.11,-3.1];

// axis ticks
const xMajor = [-20, 0, 20, 40, 60, 80];
const xMinor = [-10, 10, 30, 50, 70];
const decades = [-12, -11, -10, -9, -8, -7, -6, -5, -4, -3];
const minorMult = [2, 3, 4, 5, 6, 7, 8, 9];
const yLabelExp = [-12, -10, -8, -6, -4];
const cycleLabels = ['1st', '10th', '20th', '30th'];
const vacLabel = '2 Days under vacuum';

const FONT = '"Liberation Sans", Arial, Helvetica, sans-serif';
const ROW_TOP = [36, 866, 1698];
const PLOT_H = 692;
const CANVAS_H = [830, 830, 913];
const GREEN = '#00b050';
const PURPLE = '#8a3cb4';

const page = document.getElementById('page');

function loopPoints(v, fwd, rev) {
  const pts = [];
  for (let i = 0; i < v.length; i++) pts.push({ x: v[i], y: Math.pow(10, fwd[i]) });
  for (let i = v.length - 1; i >= 0; i--) pts.push({ x: v[i], y: Math.pow(10, rev[i]) });
  return pts;
}

function marker(ctx, style, r, x, y, fill, stroke, lw) {
  ctx.save();
  ctx.fillStyle = fill;
  ctx.strokeStyle = stroke;
  ctx.lineWidth = lw;
  Chart.helpers.drawPoint(ctx, { pointStyle: style, radius: r, rotation: 0, borderWidth: lw }, x, y);
  ctx.restore();
}

function headAt(ctx, x1, y1, x2, y2, len, half) {
  const ang = Math.atan2(y2 - y1, x2 - x1);
  const bx = x2 - len * Math.cos(ang), by = y2 - len * Math.sin(ang);
  ctx.beginPath();
  ctx.moveTo(x2, y2);
  ctx.lineTo(bx + half * Math.sin(ang), by - half * Math.cos(ang));
  ctx.lineTo(bx - half * Math.sin(ang), by + half * Math.cos(ang));
  ctx.closePath();
  ctx.fill();
  return [bx, by];
}

function sweepArrow(chart, a, color) {
  const ctx = chart.ctx, xs = chart.scales.x, ys = chart.scales.y;
  const x1 = xs.getPixelForValue(a[0]), y1 = ys.getPixelForValue(Math.pow(10, a[1]));
  const x2 = xs.getPixelForValue(a[2]), y2 = ys.getPixelForValue(Math.pow(10, a[3]));
  ctx.save();
  ctx.fillStyle = color; ctx.strokeStyle = color; ctx.lineWidth = 2.5;
  const b = headAt(ctx, x1, y1, x2, y2, 30, 12);
  ctx.beginPath(); ctx.moveTo(x1, y1); ctx.lineTo(b[0], b[1]); ctx.stroke();
  ctx.restore();
}

function drawAxes(chart, p) {
  const ctx = chart.ctx, a = chart.chartArea, xs = chart.scales.x, ys = chart.scales.y;
  ctx.save();
  ctx.strokeStyle = '#000';
  const yTick = (v, major) => {
    const y = ys.getPixelForValue(v);
    const len = major ? 16 : 9;
    ctx.lineWidth = major ? 4 : 2.5;
    ctx.beginPath();
    if (p.side === 'L') {
      ctx.moveTo(a.left, y); ctx.lineTo(a.left + len, y);
      ctx.moveTo(a.right - len, y); ctx.lineTo(a.right + len, y);
    } else {
      ctx.moveTo(a.left - len, y); ctx.lineTo(a.left + len, y);
    }
    ctx.stroke();
  };
  decades.forEach(e => {
    yTick(Math.pow(10, e), true);
    if (e < -3) minorMult.forEach(m => yTick(m * Math.pow(10, e), false));
  });
  xMajor.concat(xMinor).forEach(v => {
    const x = xs.getPixelForValue(v);
    const len = xMajor.includes(v) ? 16 : 10;
    ctx.lineWidth = 3;
    ctx.beginPath(); ctx.moveTo(x, a.bottom); ctx.lineTo(x, a.bottom - len); ctx.stroke();
  });
  ctx.lineWidth = 4;
  ctx.strokeRect(a.left, a.top, a.right - a.left, a.bottom - a.top);

  ctx.fillStyle = '#000';
  ctx.font = '54px ' + FONT;
  ctx.textAlign = 'center'; ctx.textBaseline = 'alphabetic';
  xMajor.forEach(v => ctx.fillText(String(v), xs.getPixelForValue(v), a.bottom + 63));

  if (p.side === 'L') {
    yLabelExp.forEach(e => {
      const y = ys.getPixelForValue(Math.pow(10, e));
      const sup = '-' + Math.abs(e);
      ctx.textAlign = 'right';
      ctx.font = '31px ' + FONT;
      ctx.fillText(sup, 240, y - 4);
      const w = ctx.measureText(sup).width;
      ctx.font = '52px ' + FONT;
      ctx.fillText('10', 240 - w - 1, y + 19);
    });
    ctx.save();
    ctx.translate(66, a.top + 396);
    ctx.rotate(-Math.PI / 2);
    ctx.font = '66px ' + FONT;
    ctx.textAlign = 'center'; ctx.textBaseline = 'middle';
    ctx.fillText('IDrain CurrentI (A)', 0, 0);
    ctx.restore();
  }
  if (p.row === 2) {
    ctx.font = '64px ' + FONT;
    ctx.textAlign = 'center';
    ctx.fillText('Gate Voltage (V)', (a.left + a.right) / 2, a.bottom + 154);
  }
  ctx.restore();
}

function drawLeftExtras(chart, p) {
  const ctx = chart.ctx, a = chart.chartArea, xs = chart.scales.x, ys = chart.scales.y;
  const an = p.ann;
  const X = v => xs.getPixelForValue(v), Y = l => ys.getPixelForValue(Math.pow(10, l));
  ctx.save();
  const dy = Y(an.dash[2]), dx0 = X(an.dash[0]), dx1 = X(an.dash[1]);
  ctx.fillStyle = p.color; ctx.strokeStyle = p.color;
  headAt(ctx, dx0, dy, dx1, dy, 34, 17);
  ctx.lineWidth = 8;
  ctx.setLineDash([30, 14]);
  ctx.beginPath(); ctx.moveTo(dx0, dy); ctx.lineTo(dx1 - 34, dy); ctx.stroke();
  ctx.setLineDash([]);
  ctx.restore();

  sweepArrow(chart, an.fwd, p.color);
  sweepArrow(chart, an.rev, p.color);

  ctx.save();
  ctx.strokeStyle = PURPLE; ctx.fillStyle = PURPLE;
  const cx = X(an.ell[0]), cy = Y(an.ell[1]);
  const rx = X(an.ell[0] + an.ell[2]) - cx, ry = Y(an.ell[1] - an.ell[3]) - cy;
  ctx.lineWidth = 3;
  ctx.beginPath(); ctx.ellipse(cx, cy, rx, ry, 0, 0, Math.PI * 2); ctx.stroke();
  const t1x = X(an.turn[0]), t1y = Y(an.turn[1]), t2x = X(an.turn[2]), t2y = Y(an.turn[3]);
  ctx.lineWidth = 2.5;
  ctx.beginPath(); ctx.moveTo(t1x, t1y); ctx.lineTo(t2x, t2y);
  const ang = Math.atan2(t2y - t1y, t2x - t1x);
  [0.45, -0.45].forEach(d => {
    ctx.moveTo(t2x, t2y);
    ctx.lineTo(t2x - 24 * Math.cos(ang + d), t2y - 24 * Math.sin(ang + d));
  });
  ctx.stroke();
  ctx.font = '70px ' + FONT;
  ctx.textAlign = 'left'; ctx.textBaseline = 'alphabetic';
  ctx.fillText('Turn on', X(an.text[0]), Y(an.text[1]));
  ctx.restore();

  ctx.save();
  ctx.fillStyle = '#000';
  ctx.font = '76px ' + FONT;
  ctx.textAlign = 'left'; ctx.textBaseline = 'middle';
  ctx.fillText(p.tag, 304, a.top + 82);
  ctx.font = '52px ' + FONT;
  p.legendY.forEach((ly, i) => {
    ctx.strokeStyle = p.color; ctx.lineWidth = i === 3 ? 2 : 3;
    ctx.beginPath(); ctx.moveTo(1112, ly); ctx.lineTo(1198, ly); ctx.stroke();
    marker(ctx, p.style, p.legendR[i], 1155, ly, p.color, p.color, 1);
    ctx.fillStyle = p.color;
    ctx.fillText(cycleLabels[i], 1212, ly);
  });
  ctx.restore();
}

function drawRightExtras(chart, p) {
  const ctx = chart.ctx;
  sweepArrow(chart, p.ann.fwd, p.color);
  sweepArrow(chart, p.ann.rev, p.color);
  ctx.save();
  ctx.font = '60px ' + FONT;
  ctx.fillStyle = p.color;
  ctx.textAlign = 'right'; ctx.textBaseline = 'middle';
  ctx.fillText(p.typeText, 1200, p.typeY);
  ctx.strokeStyle = p.color; ctx.lineWidth = 3;
  ctx.beginPath(); ctx.moveTo(542, p.legY); ctx.lineTo(625, p.legY); ctx.stroke();
  marker(ctx, p.style, p.legR, 583, p.legY, p.legFill, p.color, 3);
  ctx.fillStyle = '#000';
  ctx.font = '58px ' + FONT;
  ctx.textAlign = 'left';
  ctx.fillText(vacLabel, 645, p.legY);
  // big green arrow between the two columns
  const gy = p.greenY;
  ctx.fillStyle = GREEN;
  ctx.beginPath();
  ctx.moveTo(6, gy - 29); ctx.lineTo(200, gy - 29); ctx.lineTo(200, gy - 58);
  ctx.lineTo(258, gy); ctx.lineTo(200, gy + 58); ctx.lineTo(200, gy + 29);
  ctx.lineTo(6, gy + 29); ctx.closePath(); ctx.fill();
  ctx.restore();
}

function baseOptions(padLeft, padRight, row) {
  return {
    responsive: false,
    animation: false,
    devicePixelRatio: 1,
    events: [],
    layout: { padding: { left: padLeft, right: padRight, top: 36, bottom: CANVAS_H[row] - 36 - PLOT_H } },
    plugins: { legend: { display: false }, tooltip: { enabled: false } },
    scales: {
      x: { type: 'linear', min: -20, max: 80, display: false },
      y: { type: 'logarithmic', min: 1e-12, max: 1e-3, display: false }
    }
  };
}

function makeCanvas(left, top, w, h) {
  const c = document.createElement('canvas');
  c.width = w; c.height = h;
  c.style.left = left + 'px'; c.style.top = top + 'px';
  c.style.width = w + 'px'; c.style.height = h + 'px';
  page.appendChild(c);
  return c;
}

const clipBox = { left: 22, right: 22, top: 10, bottom: 0 };

const leftPanels = [
  { row: 0, side: 'L', tag: '(a)', color: '#000000', style: 'rect',
    loops: [[a1Fwd, a1Rev], [a2Fwd, a2Rev], [a3Fwd, a3Rev], [a4Fwd, a4Rev]],
    radius: [16, 7.5, 4.5, 2.5], width: [2.5, 2.5, 2, 1.8],
    legendR: [21, 21, 17, 7], legendY: [435, 500, 563, 626],
    ann: { dash: [-3.7, 66.3, -7.36], fwd: [10, -4.92, 21.4, -3.96], rev: [21.6, -5.9, 18.1, -6.97],
           ell: [3.2, -10.0, 9.25, 0.63], turn: [3.1, -10.62, 9.5, -11.1], text: [0.2, -11.93] } },
  { row: 1, side: 'L', tag: '(b)', color: '#0000ff', style: 'circle',
    loops: [[b1Fwd, b1Rev], [b2Fwd, b2Rev], [b3Fwd, b3Rev], [b4Fwd, b4Rev]],
    radius: [11, 7, 4.5, 2.5], width: [2.5, 2.5, 2, 1.8],
    legendR: [21, 21, 14, 6], legendY: [489, 552, 617, 679],
    ann: { dash: [-4.3, 59.1, -7.75], fwd: [10, -4.86, 19.7, -3.97], rev: [23, -5.51, 17.4, -6.53],
           ell: [3.2, -10.02, 9.25, 0.58], turn: [3.8, -10.6, 10, -11.18], text: [0.4, -11.94] } },
  { row: 2, side: 'L', tag: '(c)', color: '#ff0000', style: 'triangle',
    loops: [[c1Fwd, c1Rev], [c2Fwd, c2Rev], [c3Fwd, c3Rev], [c4Fwd, c4Rev]],
    radius: [16, 13, 6, 3], width: [2.5, 2.5, 2, 1.8],
    legendR: [24, 24, 20, 9], legendY: [484, 549, 615, 681],
    ann: { dash: [-4.3, 59.1, -7.55], fwd: [15, -4.31, 25.6, -3.78], rev: [30.7, -5.04, 23.2, -5.82],
           ell: [3.2, -10.23, 9.25, 0.64], turn: [3.4, -10.87, 10, -11.37], text: [0.4, -11.99] } }
];

const rightPanels = [
  { row: 0, side: 'R', color: '#000000', style: 'rect', fill: '#ffffff', legFill: '#a6a6a6',
    fwd: aVacFwd, rev: aVacRev, radius: 9, legR: 18, typeText: 'Type I', typeY: 212, legY: 654, greenY: 309,
    ann: { fwd: [13.3, -4.67, 22.9, -4.13], rev: [37.6, -4.65, 30.3, -5.11] } },
  { row: 1, side: 'R', color: '#0000ff', style: 'circle', fill: '#00ffff', legFill: '#00ffff',
    fwd: bVacFwd, rev: bVacRev, radius: 7, legR: 15, typeText: 'Type II', typeY: 198, legY: 657, greenY: 320,
    ann: { fwd: [18.1, -4.4, 27.0, -3.97], rev: [33.7, -4.84, 23.3, -5.48] } },
  { row: 2, side: 'R', color: '#ff0000', style: 'triangle', fill: '#ff88e8', legFill: '#ff88e8',
    fwd: cVacFwd, rev: cVacRev, radius: 10.5, legR: 24, typeText: 'Type III', typeY: 202, legY: 652, greenY: 280,
    ann: { fwd: [10.6, -4.82, 22.6, -4.09], rev: [33.7, -4.82, 23.3, -5.40] } }
];

leftPanels.forEach(p => {
  const cv = makeCanvas(0, ROW_TOP[p.row] - 36, 1420, CANVAS_H[p.row]);
  const datasets = p.loops.map((lp, i) => ({
    data: loopPoints(gateV, lp[0], lp[1]),
    borderColor: p.color, borderWidth: p.width[i],
    pointStyle: p.style, pointRadius: p.radius[i],
    pointBackgroundColor: p.color, pointBorderColor: p.color, pointBorderWidth: 1,
    fill: false, tension: 0, clip: clipBox
  }));
  new Chart(cv.getContext('2d'), {
    type: 'line',
    data: { datasets },
    options: baseOptions(262, 80, p.row),
    plugins: [{
      id: 'leftPanel' + p.row,
      afterDatasetsDraw(chart) { drawLeftExtras(chart, p); drawAxes(chart, p); }
    }]
  });
});

rightPanels.forEach(p => {
  const cv = makeCanvas(1280, ROW_TOP[p.row] - 36, 1306, CANVAS_H[p.row]);
  new Chart(cv.getContext('2d'), {
    type: 'line',
    data: { datasets: [{
      data: loopPoints(gateV, p.fwd, p.rev),
      borderColor: p.color, borderWidth: 2,
      pointStyle: p.style, pointRadius: p.radius,
      pointBackgroundColor: p.fill, pointBorderColor: p.color, pointBorderWidth: 2.5,
      fill: false, tension: 0, clip: clipBox
    }] },
    options: baseOptions(172, 50, p.row),
    plugins: [{
      id: 'rightPanel' + p.row,
      afterDatasetsDraw(chart) { drawAxes(chart, p); drawRightExtras(chart, p); }
    }]
  });
});
</script>
</body>
</html>
